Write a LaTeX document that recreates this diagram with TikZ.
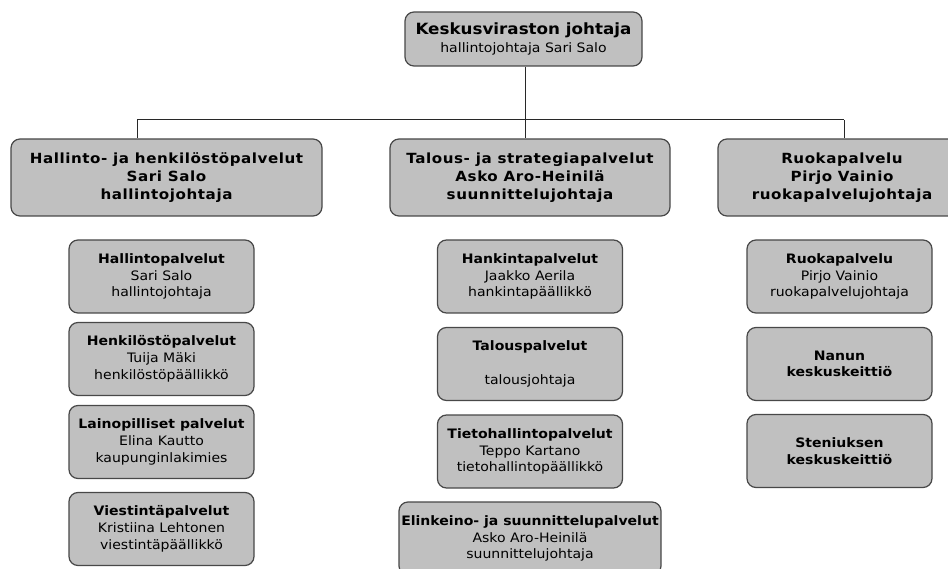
\documentclass[tikz,border=0pt]{standalone}
\usepackage{fontspec}
\setmainfont{DejaVu Sans}[FakeStretch=1.08]
\definecolor{boxfill}{RGB}{192,192,192}
\definecolor{boxline}{RGB}{72,72,72}
\definecolor{conn}{RGB}{40,40,40}
\begin{document}
\begin{tikzpicture}[x=1pt,y=-1pt,
  orgbox/.style={draw=boxline, fill=boxfill, line width=1.2pt, rounded corners=9pt, align=center, inner sep=0pt, text=black},
  topbox/.style={orgbox, minimum width=237pt, minimum height=54pt, font=\fontsize{13}{17.5}\selectfont},
  unitbox/.style={orgbox, minimum height=77pt, font=\bfseries\fontsize{14}{18.3}\selectfont\addfontfeatures{LetterSpace=4}},
  subbox/.style={orgbox, minimum width=185pt, minimum height=73pt, font=\fontsize{13}{16.7}\selectfont},
  conline/.style={draw=conn, line width=1pt}]
\clip (0,0) rectangle (948,569);
\fill[white] (0,0) rectangle (948,569);
% top
\node[topbox] (top) at (523.5,39) {{\bfseries\fontsize{15.5}{17.5}\selectfont Keskusviraston johtaja}\\hallintojohtaja Sari Salo};
% level 2
\node[unitbox, minimum width=311pt] (h1) at (166.5,177.5) {Hallinto- ja henkilöstöpalvelut\\Sari Salo\\hallintojohtaja};
\node[unitbox, minimum width=280pt] (h2) at (530,177.5) {Talous- ja strategiapalvelut\\Asko Aro-Heinilä\\suunnittelujohtaja};
\node[unitbox, minimum width=248pt] (h3) at (842,177.5) {Ruokapalvelu\\Pirjo Vainio\\ruokapalvelujohtaja};
% level 3 left
\node[subbox] (a1) at (161.5,276.5) {\textbf{Hallintopalvelut}\\Sari Salo\\hallintojohtaja};
\node[subbox] (a2) at (161.5,359) {\textbf{Henkilöstöpalvelut}\\Tuija Mäki\\henkilöstöpäällikkö};
\node[subbox] (a3) at (161.5,442) {\textbf{Lainopilliset palvelut}\\Elina Kautto\\kaupunginlakimies};
\node[subbox] (a4) at (161.5,529) {\textbf{Viestintäpalvelut}\\Kristiina Lehtonen\\viestintäpäällikkö};
% level 3 middle
\node[subbox] (b1) at (530,276.5) {\textbf{Hankintapalvelut}\\Jaakko Aerila\\hankintapäällikkö};
\node[subbox] (b2) at (530,364) {\textbf{Talouspalvelut}\\\strut\\talousjohtaja};
\node[subbox] (b3) at (530,451.5) {\textbf{Tietohallintopalvelut}\\Teppo Kartano\\tietohallintopäällikkö};
\node[subbox, minimum width=262pt] (b4) at (530,538.5) {\textbf{Elinkeino- ja suunnittelupalvelut}\\Asko Aro-Heinilä\\suunnittelujohtaja};
% level 3 right
\node[subbox] (c1) at (839.5,276.5) {\textbf{Ruokapalvelu}\\Pirjo Vainio\\ruokapalvelujohtaja};
\node[subbox] (c2) at (839.5,364) {\textbf{Nanun}\\\textbf{keskuskeittiö}};
\node[subbox] (c3) at (839.5,451) {\textbf{Steniuksen}\\\textbf{keskuskeittiö}};
% connectors
\coordinate (bus) at (525,120);
\coordinate (busL) at (137,120);
\coordinate (busR) at (844,120);
\draw[conline] (top.south -| bus) -- (bus);
\draw[conline] (busL) -- (busR);
\draw[conline] (busL) -- (busL |- h1.north);
\draw[conline] (bus) -- (bus |- h2.north);
\draw[conline] (busR) -- (busR |- h3.north);
\end{tikzpicture}
\end{document}
